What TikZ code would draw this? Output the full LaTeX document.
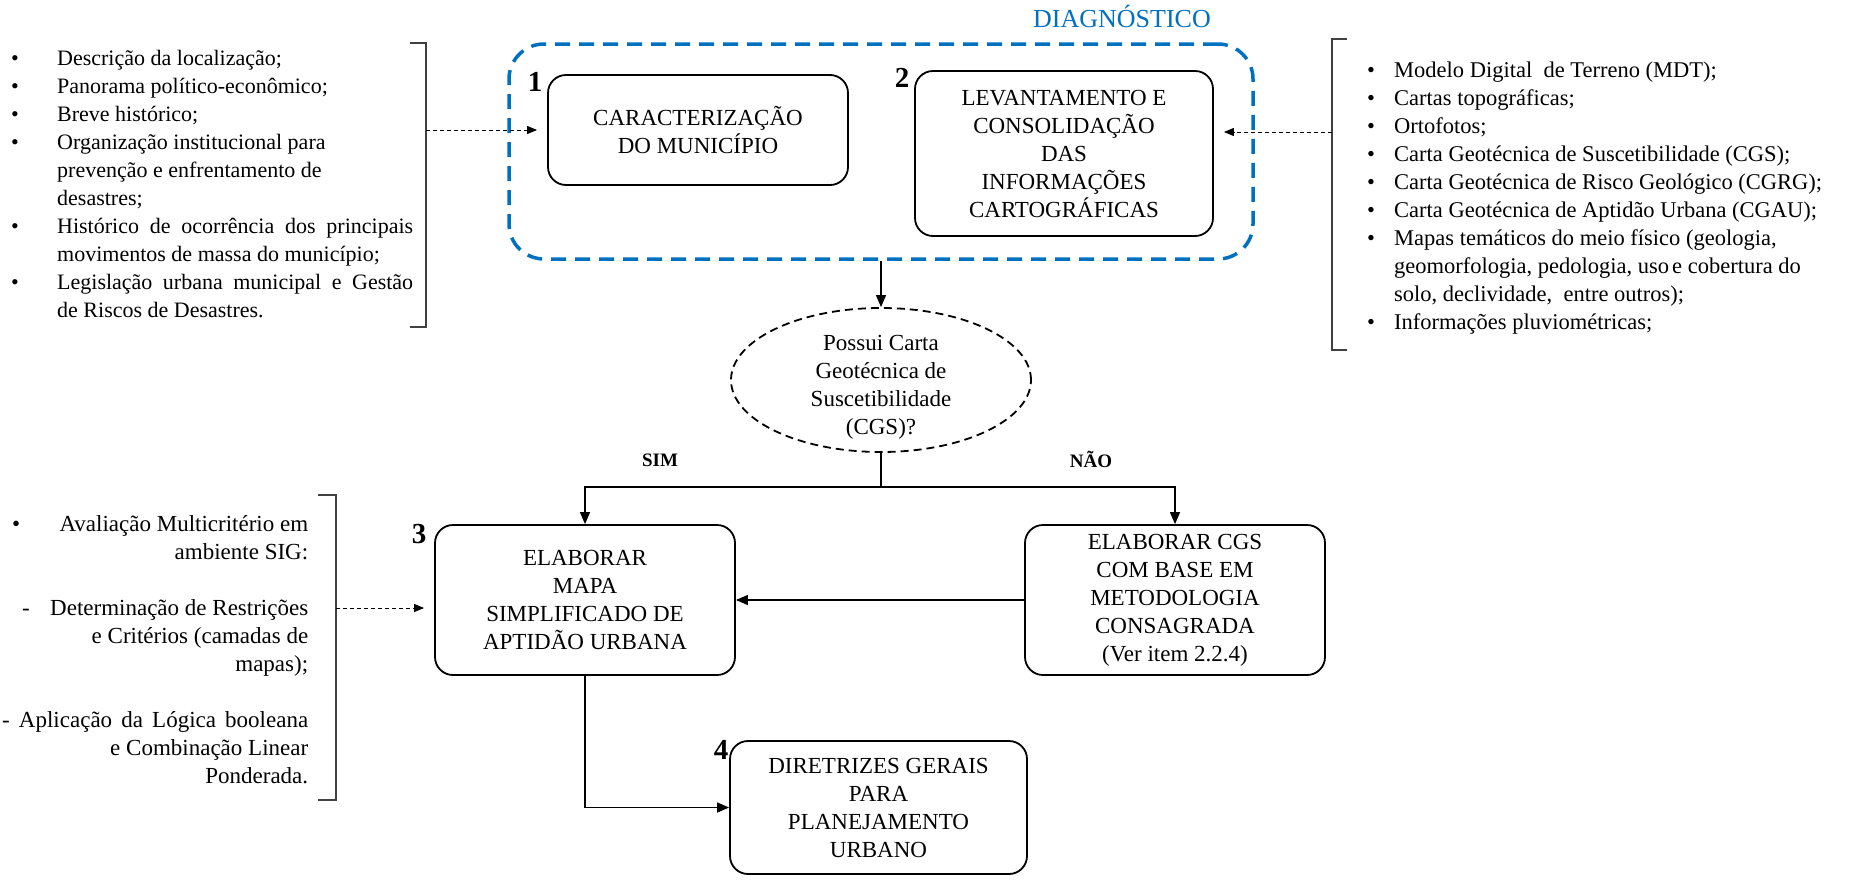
\documentclass[tikz,border=0pt]{standalone}
\usepackage{fontspec}
\setmainfont{Liberation Serif}
\usetikzlibrary{arrows.meta,shapes.geometric}
\definecolor{diagblue}{RGB}{0,112,192}
\newcommand{\boxfont}{\fontsize{23}{28}\selectfont}
\newcommand{\listfont}{\fontsize{22}{28}\selectfont}
\newcommand{\datafont}{\fontsize{22.5}{28}\selectfont}
\newcommand{\mcfont}{\fontsize{23}{28}\selectfont}
\begin{document}
\begin{tikzpicture}[x=1pt,y=-1pt,
  stage/.style={draw, line width=1.8pt, rounded corners=18pt, align=center,
    font=\boxfont, inner sep=0pt},
  stagenum/.style={font=\fontsize{29}{29}\selectfont\bfseries, inner sep=0pt},
  flow/.style={line width=1.3pt, -{Triangle[length=12pt,width=10pt]}},
  feed/.style={line width=1pt, dash pattern=on 4pt off 3pt,
    -{Triangle[length=10pt,width=8pt]}, shorten >=10pt},
  bracket/.style={line width=1.3pt, draw=black!75},
  branch/.style={font=\fontsize{19}{19}\selectfont\bfseries, inner sep=0pt}
]
\useasboundingbox (0,0) rectangle (1856,881);

% diagnosis group
\node[draw=diagblue, line width=3.5pt, dash pattern=on 15pt off 9pt,
  rounded corners=35pt, minimum width=744pt, minimum height=215pt,
  inner sep=0pt] (diag) at (881,151.5) {};
\node[font=\fontsize{26}{26}\selectfont, text=diagblue, inner sep=0pt,
  anchor=base] (diagtitle) at (1122,27) {DIAGNÓSTICO};

% stages
\node[stage, minimum width=300pt, minimum height=110pt] (b1) at (698,130)
  {CARACTERIZAÇÃO\\DO MUNICÍPIO};
\node[stage, minimum width=298pt, minimum height=165pt] (b2) at (1064,153.5)
  {LEVANTAMENTO E\\CONSOLIDAÇÃO\\DAS\\INFORMAÇÕES\\CARTOGRÁFICAS};
\node[ellipse, draw, line width=1.8pt, dash pattern=on 8pt off 5pt,
  minimum width=300pt, minimum height=144pt, inner sep=0pt] (q) at (881,380) {};
\node[align=center, font=\boxfont, inner sep=0pt] (qtext) at (881,387)
  {Possui Carta\\Geotécnica de\\Suscetibilidade\\(CGS)?};
\node[stage, minimum width=300pt, minimum height=150pt] (b3) at (585,600)
  {ELABORAR\\MAPA\\SIMPLIFICADO DE\\APTIDÃO URBANA};
\node[stage, minimum width=300pt, minimum height=150pt] (cgs) at (1175,600)
  {ELABORAR CGS\\COM BASE EM\\METODOLOGIA\\CONSAGRADA\\(Ver item 2.2.4)};
\node[stage, minimum width=297pt, minimum height=133pt] (b4) at (878.5,807.5)
  {DIRETRIZES GERAIS\\PARA\\PLANEJAMENTO\\URBANO};

% stage numbers
\node[stagenum] (n1) at (535,82) {1};
\node[stagenum] (n2) at (902,78) {2};
\node[stagenum] (n3) at (419,534) {3};
\node[stagenum] (n4) at (721,750) {4};

% decision branches
\coordinate (split) at (881,487);
\draw[flow] (diag.south) -- (q.north);
\draw[line width=1.3pt] (q.south) -- (split);
\draw[flow] (split) -| (b3.north);
\draw[flow] (split) -| (cgs.north);
\draw[flow] (cgs.west) -- (b3.east);
\draw[flow] (b3.south) |- (b4.west);
\node[branch, anchor=base] (sim) at (660,466) {SIM};
\node[branch, anchor=base] (nao) at (1091,467) {NÃO};

% input list for stage 1
\node[anchor=base west, inner sep=0pt, font=\listfont] (inputs1) at (11,65) {%
\begin{tabular}[t]{@{}l@{}l@{}}
\makebox[46pt][l]{•} & Descrição da localização;\\
\makebox[46pt][l]{•} & Panorama político-econômico;\\
\makebox[46pt][l]{•} & Breve histórico;\\
\makebox[46pt][l]{•} & Organização institucional para\\
 & prevenção e enfrentamento de\\
 & desastres;\\
\makebox[46pt][l]{•} & \makebox[356pt][s]{Histórico de ocorrência dos principais}\\
 & movimentos de massa do município;\\
\makebox[46pt][l]{•} & \makebox[356pt][s]{Legislação urbana municipal e Gestão}\\
 & de Riscos de Desastres.
\end{tabular}};
\draw[bracket] (410,43) -- (426,43) -- (426,327) -- (410,327);
\coordinate (in1) at (426,130);
\draw[feed] (in1) -- (b1.west);

% input list for stage 2
\node[anchor=base west, inner sep=0pt, font=\datafont] (inputs2) at (1367,77) {%
\begin{tabular}[t]{@{}l@{}l@{}}
\makebox[27pt][l]{•} & Modelo Digital\ \ de Terreno (MDT);\\
\makebox[27pt][l]{•} & Cartas topográficas;\\
\makebox[27pt][l]{•} & Ortofotos;\\
\makebox[27pt][l]{•} & Carta Geotécnica de Suscetibilidade (CGS);\\
\makebox[27pt][l]{•} & Carta Geotécnica de Risco Geológico (CGRG);\\
\makebox[27pt][l]{•} & Carta Geotécnica de Aptidão Urbana (CGAU);\\
\makebox[27pt][l]{•} & Mapas temáticos do meio físico (geologia,\\
 & geomorfologia, pedologia, uso\hspace{3pt}e cobertura do\\
 & solo, declividade,\ \ entre outros);\\
\makebox[27pt][l]{•} & Informações pluviométricas;
\end{tabular}};
\draw[bracket] (1347,39) -- (1332,39) -- (1332,350) -- (1347,350);
\coordinate (in2) at (1332,132);
\draw[feed] (in2) -- (in2 -| b2.east);

% input list for stage 3
\node[anchor=base west, inner sep=0pt, font=\mcfont] (inputs3) at (12,531) {%
\begin{tabular}[t]{@{}l@{}}
\makebox[296pt][s]{•\hfill Avaliação Multicritério em}\\
\makebox[296pt][s]{\hfill ambiente SIG:}\\
\mbox{}\\
\makebox[296pt][s]{\hspace*{10pt}-\hfill Determinação de Restrições}\\
\makebox[296pt][s]{\hfill e Critérios (camadas de}\\
\makebox[296pt][s]{\hfill mapas);}\\
\mbox{}\\
\makebox[296pt][s]{\hspace*{-10pt}- Aplicação da Lógica booleana}\\
\makebox[296pt][s]{\hfill e Combinação Linear}\\
\makebox[296pt][s]{\hfill Ponderada.}
\end{tabular}};
\draw[bracket] (318,495) -- (336,495) -- (336,800) -- (318,800);
\coordinate (in3) at (336,608);
\draw[feed] (in3) -- (in3 -| b3.west);
\end{tikzpicture}
\end{document}
